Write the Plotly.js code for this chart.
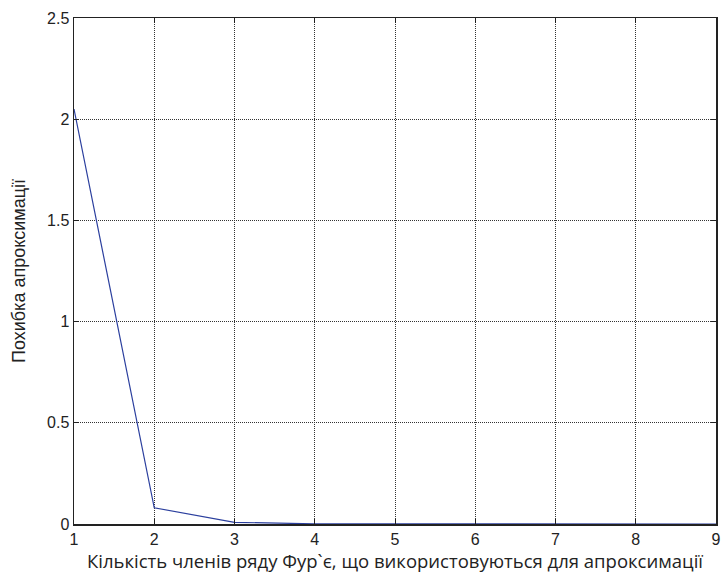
<!DOCTYPE html>
<html>
<head>
<meta charset="utf-8">
<script src="https://cdn.plot.ly/plotly-3.0.1.min.js"></script>
<style>html,body{margin:0;padding:0;background:#fff;}#chart{width:723px;height:576px;}</style>
</head>
<body>
<div id="chart"></div>
<script>
// Number of Fourier series terms and the approximation error for each
const terms = [1, 2, 3, 4, 5, 6, 7, 8, 9];
const errors = [2.05, 0.08, 0.008, 0.001, 0.0005, 0.0003, 0.0002, 0.0001, 0.0001];
const xTicks = [1, 2, 3, 4, 5, 6, 7, 8, 9];
const yTicks = [0, 0.5, 1, 1.5, 2, 2.5];

const axisCommon = {
  showline: true, linecolor: '#222', linewidth: 1.5, mirror: 'ticks',
  ticks: 'inside', ticklen: 5, tickcolor: '#222', tickwidth: 1,
  showgrid: true, gridcolor: '#333', gridwidth: 1, griddash: '1px,1px',
  zeroline: false,
  tickfont: {family: 'Liberation Sans, Arial, sans-serif', size: 16, color: '#222'}
};

Plotly.newPlot('chart', [{
  x: terms, y: errors, type: 'scatter', mode: 'lines',
  line: {color: '#2b3f9e', width: 1.2}, hoverinfo: 'skip'
}], {
  width: 723, height: 576,
  margin: {l: 74, r: 7, t: 18, b: 52},
  paper_bgcolor: '#fff', plot_bgcolor: '#fff',
  showlegend: false,
  xaxis: Object.assign({}, axisCommon, {
    range: [1, 9], tickvals: xTicks, ticktext: xTicks.map(String),
    title: {text: 'Кількість членів ряду Фур`є, що використовуються для апроксимації',
      font: {family: 'Open Sans, sans-serif', size: 18.5, color: '#222'}, standoff: 1}
  }),
  yaxis: Object.assign({}, axisCommon, {
    range: [0, 2.5], tickvals: yTicks, ticktext: ['0', '0.5', '1', '1.5', '2', '2.5'],
    title: {text: 'Похибка апроксимації',
      font: {family: 'Liberation Sans, Arial, sans-serif', size: 18, color: '#222'}, standoff: 16}
  })
}, {staticPlot: true});
</script>
</body>
</html>
